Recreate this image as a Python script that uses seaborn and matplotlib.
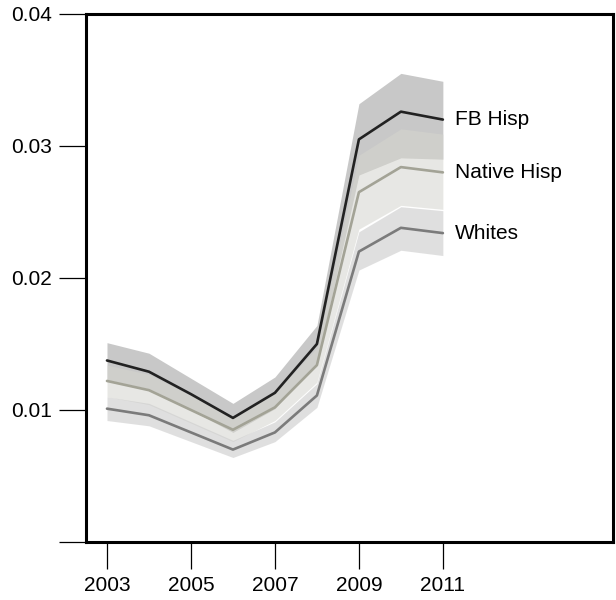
import matplotlib
matplotlib.use("Agg")
import matplotlib.pyplot as plt
import seaborn as sns
import pandas as pd

years = [2003, 2004, 2005, 2006, 2007, 2008, 2009, 2010, 2011]

fb_hisp = [0.01375, 0.0129, 0.0112, 0.0094, 0.0113, 0.0150, 0.0305, 0.0326, 0.0320]
fb_lo = [0.0123, 0.0116, 0.0100, 0.0083, 0.0101, 0.0136, 0.0278, 0.0291, 0.0290]
fb_hi = [0.0151, 0.0143, 0.0124, 0.0105, 0.0125, 0.0164, 0.0332, 0.0355, 0.0349]

native_hisp = [0.0122, 0.0115, 0.0100, 0.0085, 0.0102, 0.0134, 0.0265, 0.0284, 0.0280]
native_lo = [0.0110, 0.0104, 0.0090, 0.0076, 0.0092, 0.0121, 0.0237, 0.0255, 0.0252]
native_hi = [0.0134, 0.0127, 0.0111, 0.0094, 0.0113, 0.0147, 0.0293, 0.0313, 0.0309]

whites = [0.0101, 0.0096, 0.0083, 0.0070, 0.0083, 0.0111, 0.0220, 0.0238, 0.0234]
whites_lo = [0.0092, 0.0088, 0.0076, 0.0064, 0.0076, 0.0102, 0.0206, 0.0221, 0.0217]
whites_hi = [0.0110, 0.0105, 0.0091, 0.0077, 0.0091, 0.0120, 0.0235, 0.0254, 0.0251]

groups = ["FB Hisp", "Native Hisp", "Whites"]
xticks = [2003, 2005, 2007, 2009, 2011]
yticks = [0, 0.01, 0.02, 0.03, 0.04]
ytick_labels = ["", "0.01", "0.02", "0.03", "0.04"]

sns.set_style("white")
plt.rcParams['font.family'] = ['Liberation Sans', 'DejaVu Sans']
plt.rcParams['text.color'] = 'black'
plt.rcParams['xtick.color'] = 'black'
plt.rcParams['ytick.color'] = 'black'

df = pd.DataFrame({
    "year": years * 3,
    "rate": fb_hisp + native_hisp + whites,
    "group": [g for g in groups for _ in years],
})

line_colors = {"FB Hisp": "#222222", "Native Hisp": "#a3a396", "Whites": "#7b7b7b"}

fig = plt.figure(figsize=(6.16, 6.0), dpi=100)
ax = fig.add_axes([0.1396, 0.0967, 0.995 - 0.1396, 0.9767 - 0.0967])

ax.fill_between(years, fb_lo, fb_hi, color="#c8c8c8", lw=0, zorder=1)
ax.fill_between(years, native_lo, native_hi, color="#d5d5ce", alpha=0.55, lw=0, zorder=2)
ax.fill_between(years, whites_lo, whites_hi, color="#cbcbcb", alpha=0.6, lw=0, zorder=3)

sns.lineplot(data=df, x="year", y="rate", hue="group", palette=line_colors,
             linewidth=1.9, legend=False, ax=ax, zorder=5)

last = {"FB Hisp": fb_hisp[-1], "Native Hisp": native_hisp[-1], "Whites": whites[-1]}
for g in groups:
    ax.text(years[-1] + 0.29, last[g], g, fontsize=15, va="center", ha="left", color="black")

ax.set_xlim(2002.5, 2015.05)
ax.set_ylim(0, 0.04)
ax.set_xticks(xticks)
ax.set_xticklabels([str(x) for x in xticks])
ax.set_yticks(yticks)
ax.set_yticklabels(ytick_labels)
ax.set_xlabel("")
ax.set_ylabel("")
ax.tick_params(axis="both", which="major", direction="out", length=19.5, width=0.9,
               color="black", labelcolor="black", labelsize=15, pad=5, left=True, bottom=True)
for s in ax.spines.values():
    s.set_visible(True)
    s.set_color("black")
    s.set_linewidth(2.2)

fig.savefig("out.png", dpi=100)
